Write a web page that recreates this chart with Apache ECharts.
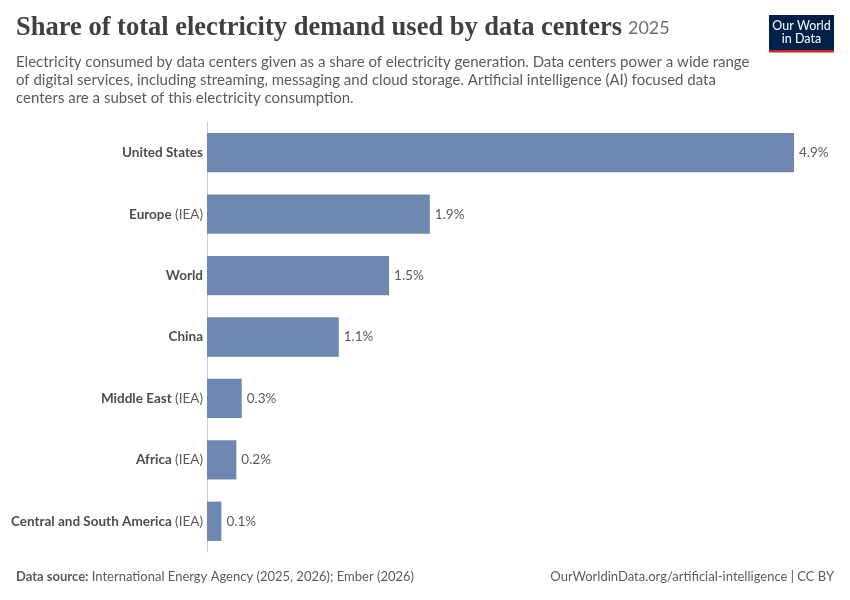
<!DOCTYPE html>
<html><head><meta charset="utf-8">
<script src="https://cdn.jsdelivr.net/npm/echarts@6/dist/echarts.min.js"></script>
<style>html,body{margin:0;padding:0;background:#fff}#c{width:850px;height:600px}</style>
</head><body><div id="c"></div>
<script>
const regions = ["United States","Europe","World","China","Middle East","Africa","Central and South America"];
const suffixes = ["","(IEA)","","","(IEA)","(IEA)","(IEA)"];
const shares = [4.9, 1.86, 1.52, 1.1, 0.29, 0.245, 0.12];

const chart = echarts.init(document.getElementById('c'));
const font = 'Lato, "Noto Sans", sans-serif';
chart.setOption({
  animation: false,
  backgroundColor: '#ffffff',
  grid: {left: 207, right: 56, top: 122, bottom: 48, containLabel: false},
  xAxis: {type: 'value', min: 0, max: 4.9, show: false},
  yAxis: {
    type: 'category', inverse: true, data: regions,
    axisLine: {show: true, lineStyle: {color: '#cfcfcf', width: 1}},
    axisTick: {show: false},
    axisLabel: {
      margin: 4,
      formatter: (v, i) => suffixes[i] ? '{b|' + v + '} {n|' + suffixes[i] + '}' : '{b|' + v + '}',
      rich: {
        b: {fontFamily: font, fontSize: 13.5, fontWeight: 'bold', color: '#4d4d4d'},
        n: {fontFamily: font, fontSize: 13.5, color: '#5b5b5b'}
      }
    }
  },
  series: [{
    type: 'bar', data: shares, barCategoryGap: '36%',
    itemStyle: {color: '#6d87b0'},
    label: {show: true, position: 'right', distance: 5, fontFamily: font, fontSize: 13.5, color: '#5b5b5b',
      formatter: p => p.value.toFixed(1) + '%'}
  }],
  graphic: [
    {type: 'text', x: 16, y: 15, style: {
      rich: {
        t: {fontFamily: '"Liberation Serif", "DejaVu Serif", serif', fontSize: 26.5, fontWeight: 'bold', fill: '#404040'},
        y: {fontFamily: font, fontSize: 18, fill: '#6e6e6e', padding: [0, 0, 0, 6]}
      },
      text: '{t|Share of total electricity demand used by data centers}{y|2025}'}},
    {type: 'text', x: 16, y: 53, style: {text: 'Electricity consumed by data centers given as a share of electricity generation. Data centers power a wide range\nof digital services, including streaming, messaging and cloud storage. Artificial intelligence (AI) focused data\ncenters are a subset of this electricity consumption.', font: '15px Lato, sans-serif', fill: '#5b5b5b', lineHeight: 18}},
    {type: 'rect', shape: {x: 769, y: 15, width: 65, height: 35}, style: {fill: '#002147'}},
    {type: 'rect', shape: {x: 769, y: 50, width: 65, height: 2.5}, style: {fill: '#ce261e'}},
    {type: 'text', x: 801.5, y: 19, style: {text: 'Our World\nin Data', font: '12.5px Lato, sans-serif', fill: '#ffffff', align: 'center', verticalAlign: 'top', lineHeight: 13.5}},
    {type: 'text', x: 16, y: 570, style: {rich: {b: {fontFamily: font, fontSize: 13, fontWeight: 'bold', fill: '#5b5b5b'}, n: {fontFamily: font, fontSize: 13, fill: '#5b5b5b'}}, text: '{b|Data source:} {n|International Energy Agency (2025, 2026); Ember (2026)}'}},
    {type: 'text', x: 834, y: 570, style: {text: 'OurWorldinData.org/artificial-intelligence | CC BY', font: '13px Lato, sans-serif', fill: '#5b5b5b', align: 'right', verticalAlign: 'top'}}
  ]
});
</script></body></html>
